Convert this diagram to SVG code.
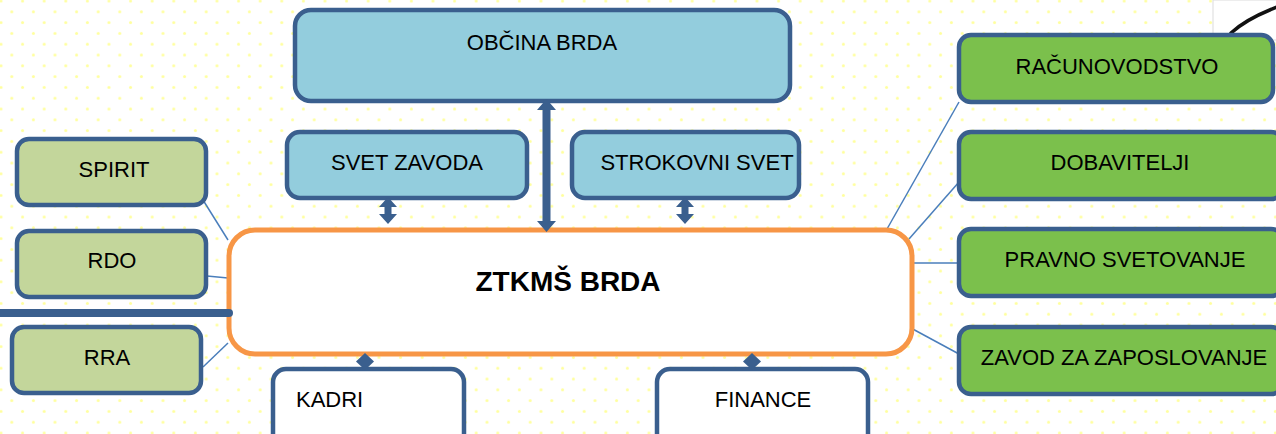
<svg xmlns="http://www.w3.org/2000/svg" width="1276" height="434" viewBox="0 0 1276 434">
<defs>
<pattern id="dots" x="-4.4" y="-4.4" width="21.6" height="21.6" patternUnits="userSpaceOnUse">
<circle cx="5.4" cy="5.4" r="1.5" fill="#ffff9c"/>
<circle cx="16.2" cy="16.2" r="1.5" fill="#ffff9c"/>
</pattern>
<path id="dbl" d="M0,0 L9,10 L3.5,10 L3.5,17 L9,17 L0,27 L-9,17 L-3.5,17 L-3.5,10 L-9,10 Z"/>
<path id="dia" d="M0,0 L9,8.5 L0,17 L-9,8.5 Z"/>
<style>
.box{stroke:#3a5f8e;stroke-width:4.5}
.blue{fill:#93cddd}
.olive{fill:#c3d69b}
.green{fill:#7bc04c}
.white{fill:#ffffff}
.lbl{font-family:"Liberation Sans",Arial,sans-serif;font-size:22px;fill:#000;text-anchor:middle}
.thin{stroke:#4a7ebb;stroke-width:1.5;fill:none}
.arr{fill:#3a5f8e}
</style>
</defs>
<rect width="1276" height="434" fill="#ffffff"/>
<rect width="1276" height="434" fill="url(#dots)"/>
<rect x="1213" y="0" width="64" height="40" fill="#ffffff" stroke="#dcdcdc" stroke-width="1"/>
<path d="M1231,33 Q1246,19 1277,7" fill="none" stroke="#111" stroke-width="3.5" stroke-linecap="round"/>

<g id="connectors">
<line class="thin" x1="203" y1="200" x2="228" y2="240"/>
<line class="thin" x1="207" y1="276" x2="228" y2="278"/>
<line class="thin" x1="203" y1="367" x2="228" y2="343"/>
<line class="thin" x1="887" y1="229" x2="959" y2="102"/>
<line class="thin" x1="909" y1="239" x2="959" y2="182"/>
<line class="thin" x1="909" y1="263" x2="959" y2="263"/>
<line class="thin" x1="909" y1="327" x2="959" y2="354"/>
</g>

<g id="obcina"><rect class="box blue" x="295" y="10" width="495" height="91" rx="16"/><text class="lbl" x="542" y="50">OBČINA BRDA</text></g>
<g id="svet-zavoda"><rect class="box blue" x="287" y="132" width="240" height="66" rx="13"/><text class="lbl" x="407" y="170">SVET ZAVODA</text></g>
<g id="strokovni-svet"><rect class="box blue" x="572" y="132" width="227" height="66" rx="13"/><text class="lbl" x="697" y="170">STROKOVNI SVET</text></g>

<g id="spirit"><rect class="box olive" x="17" y="139" width="189" height="66" rx="12"/><text class="lbl" x="114" y="177">SPIRIT</text></g>
<g id="rdo"><rect class="box olive" x="17" y="231" width="189" height="66" rx="12"/><text class="lbl" x="112" y="268">RDO</text></g>
<g id="rra"><rect class="box olive" x="12" y="327" width="189" height="66" rx="12"/><text class="lbl" x="107" y="365">RRA</text></g>

<g id="racunovodstvo"><rect class="box green" x="959" y="35" width="314" height="67" rx="12"/><text class="lbl" x="1117" y="74">RAČUNOVODSTVO</text></g>
<g id="dobavitelji"><rect class="box green" x="959" y="132" width="324" height="67" rx="12"/><text class="lbl" x="1120" y="170">DOBAVITELJI</text></g>
<g id="pravno"><rect class="box green" x="959" y="229" width="324" height="67" rx="12"/><text class="lbl" x="1125" y="267">PRAVNO SVETOVANJE</text></g>
<g id="zavod"><rect class="box green" x="959" y="327" width="324" height="67" rx="12"/><text class="lbl" x="1124" y="365">ZAVOD ZA ZAPOSLOVANJE</text></g>

<g id="kadri"><rect class="box white" x="273" y="369" width="191" height="80" rx="13"/><text class="lbl" x="296" y="407" style="text-anchor:start">KADRI</text></g>
<g id="finance"><rect class="box white" x="657" y="369" width="211" height="80" rx="13"/><text class="lbl" x="763" y="407">FINANCE</text></g>

<g id="ztkms"><rect x="229" y="230" width="683" height="124" rx="26" fill="#ffffff" stroke="#f79646" stroke-width="5"/><text x="568" y="291" style="font-family:'Liberation Sans',Arial,sans-serif;font-size:28px;font-weight:bold;text-anchor:middle">ZTKMŠ BRDA</text></g>

<g id="arrows" class="arr">
<line x1="0" y1="313" x2="229" y2="313" stroke="#3a5f8e" stroke-width="8" stroke-linecap="round"/>
<path d="M546.5,99 L556,110 L550.5,110 L550.5,221 L556,221 L546.5,232 L537,221 L542.5,221 L542.5,110 L537,110 Z"/>
<use href="#dbl" x="388" y="197"/>
<use href="#dbl" x="685" y="197"/>
<use href="#dia" x="365" y="353"/>
<use href="#dia" x="752" y="353"/>
</g>
</svg>
